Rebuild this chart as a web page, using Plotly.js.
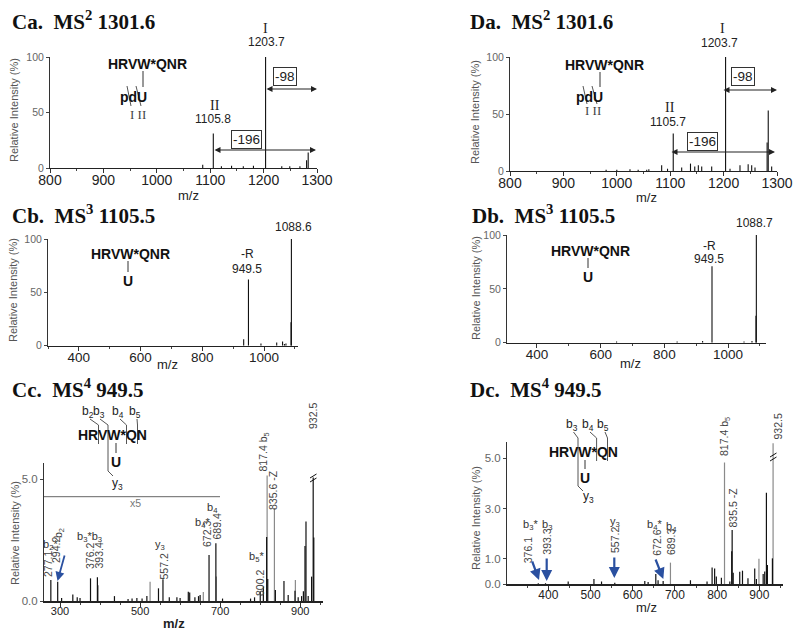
<!DOCTYPE html>
<html><head><meta charset="utf-8">
<script src="https://cdn.plot.ly/plotly-3.0.1.min.js"></script>
<style>body{margin:0;background:#fff}#c{width:800px;height:635px}</style>
</head><body><div id="c"></div>
<script>
// ---------------- data ----------------
// Panel Ca: MS2 1301.6
const caMz  = [1086, 1105.8, 1121, 1140, 1162, 1181, 1203.7, 1234, 1249, 1268, 1280.5, 1283.5];
const caInt = [3, 31, 1.5, 2, 1.5, 2, 100, 1.5, 1.5, 1.5, 7, 14];
// Panel Da: MS2 1301.6
const daMz  = [980, 1000, 1024.7, 1040, 1056, 1060, 1084, 1095, 1105.7, 1121.5, 1138, 1146, 1152.7, 1159, 1177.7, 1203.7, 1212, 1230.7, 1246, 1252.6, 1258.8, 1281.5, 1283.6, 1290];
const daInt = [1, 1, 1.5, 1, 1, 1.5, 5, 2, 33, 3, 6.5, 4, 5, 4, 4, 100, 2, 5, 6, 5, 3, 25, 53, 4];
// Panel Cb: MS3 1105.5
const cbMz  = [934, 949.5, 990, 1041, 1060, 1066, 1071, 1087.4, 1088.6];
const cbInt = [6, 62, 2, 3, 4, 1.5, 2, 22, 100];
// Panel Db: MS3 1105.5
const dbMz  = [650, 840, 920, 949.5, 1050, 1075, 1087.5, 1088.7];
const dbInt = [1, 1, 1.5, 71, 1, 1.5, 25, 100];
// Panel Cc: MS4 949.5 (dark and light peaks)
const ccMz  = [277.1, 294.2, 304, 332, 343, 350, 376.2, 393.4, 436, 470, 480, 492, 505, 517, 546, 557.2, 573, 592, 600, 620.5, 624, 637, 646, 650, 672.3, 689.4, 706, 776, 786, 800.2, 808, 816.2, 819, 838, 859.5, 870, 887, 895, 903.5, 908, 912, 914.5, 920, 928.5, 932.5, 934];
const ccInt = [0.86, 0.79, 0.12, 0.27, 0.15, 0.12, 0.93, 0.97, 0.2, 0.08, 0.1, 0.12, 0.1, 0.2, 0.52, 0.89, 0.15, 0.15, 0.12, 0.38, 0.35, 0.15, 0.2, 0.25, 1.89, 2.37, 0.1, 0.1, 0.15, 0.38, 0.59, 2.62, 0.9, 0.45, 0.82, 0.25, 0.42, 0.15, 0.2, 0.4, 2.26, 3.26, 0.2, 1.0, 5.07, 2.6];
const ccGrayMz  = [395.5, 525, 658, 690.5, 817.4, 835.6, 888];
const ccGrayInt = [0.65, 0.79, 0.37, 1.0, 5.15, 3.8, 0.86];
// Panel Dc: MS4 949.5
const dcMz  = [376.1, 393.3, 447, 508, 526, 557.4, 628.5, 636.4, 654.6, 660, 672, 736.7, 776, 788, 794, 798, 810, 830, 834.5, 835.5, 838, 853.5, 860, 873, 889, 893, 909, 912.7, 916.7, 919, 930.9];
const dcInt = [0.03, 0.03, 0.1, 0.2, 0.1, 0.05, 0.12, 0.08, 0.4, 0.15, 0.12, 0.15, 0.1, 0.66, 0.62, 0.3, 0.25, 0.1, 1.3, 2.15, 0.45, 0.49, 0.53, 0.23, 0.62, 0.2, 0.4, 0.5, 3.63, 0.76, 1.02];
const dcGrayMz  = [689.3, 817.4, 899, 932.5];
const dcGrayInt = [0.85, 4.83, 1.0, 5.6];
// tick labels
const ticksMS2 = [800, 900, 1000, 1100, 1200, 1300];
const ticksMS3 = [400, 600, 800, 1000];
const ticksCc  = [300, 500, 700, 900];
const ticksDc  = [400, 500, 600, 700, 800, 900];
const yTicksPct = [0, 50, 100];
const yTicksCc  = [0, 5];
const yTicksDc  = [0, 1, 3, 5];

// ---------------- helpers ----------------
const W = 800, H = 635;
const fx = p => p / W, fy = p => 1 - p / H;
const SANS = 'Liberation Sans, Arial, sans-serif';
const SERIF = 'Liberation Serif, Times New Roman, serif';

function stemTrace(mz, it, xa, ya, color, width) {
  const x = [], y = [];
  mz.forEach((m, i) => { x.push(m, m, null); y.push(0, it[i], null); });
  return {type: 'scatter', mode: 'lines', x, y, xaxis: xa, yaxis: ya,
          line: {color, width}, hoverinfo: 'skip', showlegend: false, cliponaxis: false};
}
function xAx(l, r, range, tickvals, size, anchor, minor, lw) {
  return {domain: [fx(l), fx(r)], range, anchor, tickmode: 'array', tickvals,
    ticks: 'outside', ticklen: 4, tickcolor: '#333', showline: true, linecolor: '#222', linewidth: lw || 1.2,
    showgrid: false, zeroline: false, fixedrange: true, ticklabelstandoff: -5,
    tickfont: {family: SANS, size, color: '#222'},
    minor: {ticks: 'outside', ticklen: 2, dtick: minor, tick0: 0, tickcolor: '#444', showgrid: false}};
}
function yAx(b, t, range, tickvals, size, anchor, fmt) {
  return {domain: [fy(b), fy(t)], range, anchor, tickmode: 'array', tickvals, tickformat: fmt || '',
    ticks: 'outside', ticklen: 3, tickcolor: '#444', showline: true, linecolor: '#333', linewidth: 1,
    showgrid: false, zeroline: false, fixedrange: true,
    tickfont: {family: SANS, size, color: '#666'}};
}

const ann = [], shapes = [];
function T(text, x, y, o) {
  o = o || {};
  const font = Object.assign({family: SANS, size: 12, color: '#222'}, o.font || {});
  const a = Object.assign({text, x: fx(x), y: fy(y), xref: 'paper', yref: 'paper', showarrow: false,
    xanchor: 'center', yanchor: 'middle'}, o);
  a.font = font;
  ann.push(a);
}
function R(text, x, y, size) { T(text, x, y, {textangle: -90, font: {size: size || 10.5, color: '#444'}}); }
function arrow(x0, y0, x1, y1, o) {
  ann.push(Object.assign({x: fx(x1), y: fy(y1), ax: x0 - x1, ay: y0 - y1, xref: 'paper', yref: 'paper',
    text: '', showarrow: true, arrowhead: 2, arrowsize: 1, arrowwidth: 1.2, arrowcolor: '#222'}, o || {}));
}
function L(x0, y0, x1, y1, color, w) {
  shapes.push({type: 'line', xref: 'paper', yref: 'paper', x0: fx(x0), y0: fy(y0), x1: fx(x1), y1: fy(y1),
    line: {color: color || '#444', width: w || 1}});
}

// ---------------- traces ----------------
const DARK = '#111', GRAY = '#8a8a8a';
const data = [
  stemTrace(caMz, caInt, 'x', 'y', DARK, 1.1),
  stemTrace(daMz, daInt, 'x2', 'y2', DARK, 1.1),
  stemTrace(cbMz, cbInt, 'x3', 'y3', DARK, 1.1),
  stemTrace(dbMz, dbInt, 'x4', 'y4', DARK, 1.1),
  stemTrace(ccGrayMz, ccGrayInt, 'x5', 'y5', GRAY, 1.2),
  stemTrace(ccMz, ccInt, 'x5', 'y5', DARK, 1.2),
  stemTrace(dcGrayMz, dcGrayInt, 'x6', 'y6', GRAY, 1.2),
  stemTrace(dcMz, dcInt, 'x6', 'y6', DARK, 1.2)
];

// ---------------- text ----------------
const ttl = {font: {family: SERIF, size: 21, color: '#111'}, xanchor: 'left'};
T('<b>Ca.&nbsp;&nbsp;MS<sup>2</sup> 1301.6</b>', 10, 21, ttl);
T('<b>Da.&nbsp;&nbsp;MS<sup>2</sup> 1301.6</b>', 468, 21, ttl);
T('<b>Cb.&nbsp;&nbsp;MS<sup>3</sup> 1105.5</b>', 10, 214, ttl);
T('<b>Db.&nbsp;&nbsp;MS<sup>3</sup> 1105.5</b>', 470, 214, ttl);
T('<b>Cc.&nbsp;&nbsp;MS<sup>4</sup> 949.5</b>', 10, 388, ttl);
T('<b>Dc.&nbsp;&nbsp;MS<sup>4</sup> 949.5</b>', 468, 388, ttl);

const yt = {textangle: -90, font: {size: 11, color: '#555'}};
T('Relative Intensity (%)', 14, 110, yt);
T('Relative Intensity (%)', 475, 112, yt);
T('Relative Intensity (%)', 13, 290, yt);
T('Relative Intensity (%)', 476, 288, yt);
T('Relative Intensity (%)', 15, 533, yt);
T('Relative Intensity (%)', 476, 518, yt);

const xt = {font: {size: 13, color: '#222'}};
T('m/z', 188, 196, xt);
T('m/z', 646, 197, xt);
T('m/z', 167, 364, xt);
T('m/z', 630, 363, xt);
T('<b>m/z</b>', 174, 623, xt);
T('m/z', 646, 607, xt);

// --- Ca annotations
const rom = {font: {family: SERIF, size: 14, color: '#222'}};
T('I', 265, 29, rom); T('1203.7', 266, 42.5);
T('II', 215, 105.5, rom); T('1105.8', 213, 119.5);
const box = {bordercolor: '#333', borderwidth: 1, borderpad: 1, bgcolor: '#fff', font: {size: 13.5}};
T('-98', 285, 77, box); T('-196', 246, 139, box);
arrow(265, 89, 317, 89, {arrowside: 'end+start'});
arrow(213, 150, 316, 150, {arrowside: 'end+start'});
const pep = {font: {size: 14, color: '#111'}};
T('<b>HRVW*QNR</b>', 147, 64, pep);
L(143, 71, 143, 87, '#333');
T('<b>pdU</b>', 133, 97, pep);
T('I II', 138, 114.5, {font: {family: SERIF, size: 13, color: '#444'}});
L(127, 86, 131, 106, '#555'); L(136, 86, 141, 106, '#555');

// --- Da annotations
T('I', 722, 29, rom); T('1203.7', 719, 43);
T('II', 670, 107, rom); T('1105.7', 668, 121.5);
T('-98', 743, 77, box); T('-196', 702, 141.5, box);
arrow(722, 90, 777, 90, {arrowside: 'end+start'});
arrow(670, 152, 775, 152, {arrowside: 'end+start'});
T('<b>HRVW*QNR</b>', 604, 65, pep);
L(600, 72, 600, 87, '#333');
T('<b>pdU</b>', 589, 97, pep);
T('I II', 593, 110.5, {font: {family: SERIF, size: 13, color: '#444'}});
L(583, 86, 587, 104, '#555'); L(592, 86, 597, 104, '#555');

// --- Cb / Db annotations
T('<b>HRVW*QNR</b>', 130, 254, pep);
L(128, 261, 128, 272, '#333'); T('<b>U</b>', 128, 281, pep);
T('-R', 247, 254); T('949.5', 247, 269); T('1088.6', 293, 227);
T('<b>HRVW*QNR</b>', 590, 251, pep);
L(588, 258, 588, 268, '#333'); T('<b>U</b>', 588, 277, pep);
T('-R', 709, 246); T('949.5', 709, 259); T('1088.7', 754, 223);

// --- Cc structure
T('<b>HRVW*QN</b>', 113, 435, pep);
const bl = {font: {size: 12, color: '#222'}};
T('b<sub>2</sub>', 88, 412, bl); T('b<sub>3</sub>', 98.5, 412, bl); T('b<sub>4</sub>', 118, 412, bl); T('b<sub>5</sub>', 135, 412, bl);
[[90, 98.5], [100, 108], [120, 126.5], [137, 137.5]].forEach(([a, b]) => { L(a, 419, b, 425, '#555'); L(b, 425, b, 444, '#555'); });
L(108, 444, 108, 471, '#555'); L(108, 471, 113, 476, '#555');
T('y<sub>3</sub>', 117, 484, bl);
L(116, 443, 116, 453, '#333'); T('<b>U</b>', 116, 462, pep);
// Cc peak labels
const sl = {font: {size: 11, color: '#333'}};
T('b<sub>2</sub>*', 50, 545, sl); R('277.1', 48, 564);
R('b<sub>2</sub>', 59, 533); R('294.2', 56, 550);
arrow(65, 554, 57.5, 581, {arrowcolor: '#2a50a0', arrowwidth: 1.8, arrowhead: 2});
T('b<sub>3</sub>*b<sub>3</sub>', 89, 537, sl); R('376.2', 90, 556); R('393.4', 98.5, 556);
T('y<sub>3</sub>', 160, 545, sl); R('557.2', 163.5, 567);
T('b<sub>4</sub>', 212, 508, sl); T('b<sub>4</sub>*', 202, 523, sl);
R('672.3', 207, 534); R('689.4', 216.5, 527);
T('b<sub>5</sub>*', 256.7, 557, sl); R('800.2', 260, 583);
R('817.4 b<sub>5</sub>', 263.5, 452); R('835.6 -Z', 273, 490); R('932.5', 313, 416);
L(44, 496.7, 220, 496.7, '#666', 1); T('x5', 135, 503, {font: {size: 10.5, color: '#777'}});
L(310, 478, 316.5, 474, '#111'); L(310, 482, 316.5, 478, '#111');

// --- Dc structure
T('<b>HRVW*QN</b>', 583.3, 452, pep);
T('b<sub>3</sub>', 571.7, 425, bl); T('b<sub>4</sub>', 588.3, 425, bl); T('b<sub>5</sub>', 603.3, 425, bl);
[[573.5, 578], [590, 596.6], [605, 607.5]].forEach(([a, b]) => { L(a, 432, b, 438, '#555'); L(b, 438, b, 461, '#555'); });
L(578, 461, 578, 486, '#555'); L(578, 486, 583, 491, '#555');
T('y<sub>3</sub>', 588, 497, bl);
L(585, 460, 585, 469, '#333'); T('<b>U</b>', 585, 477.5, pep);
// Dc peak labels
const blue = {arrowcolor: '#2a50a0', arrowwidth: 2.2, arrowhead: 2};
T('b<sub>3</sub>*', 530, 525, sl); R('376.1', 528.3, 550); arrow(531.7, 560, 539, 580, blue);
T('b<sub>3</sub>', 546.7, 525, sl); R('393.3', 546.7, 542); arrow(546.7, 557, 546.7, 581, blue);
T('y<sub>3</sub>', 615, 522, sl); R('557.2', 615, 540); arrow(614.3, 556, 614.3, 578, blue);
T('b<sub>4</sub>*', 654, 525, sl); T('b<sub>4</sub>', 671.7, 526.7, sl);
R('672.6', 656.7, 543); R('689.3', 671, 542); arrow(655, 558, 663.3, 579, blue);
R('817.4 b<sub>5</sub>', 725, 437); R('835.5 -Z', 732.5, 508); R('932.5', 777.5, 427);
L(770, 457, 776.5, 453, '#111'); L(770, 461, 776.5, 457, '#111');

// ---------------- layout ----------------
const layout = {
  width: W, height: H, margin: {l: 0, r: 0, t: 0, b: 0}, paper_bgcolor: '#fff', plot_bgcolor: 'rgba(0,0,0,0)',
  showlegend: false, font: {family: SANS},
  xaxis:  xAx(50, 317, [800, 1300], ticksMS2, 14, 'y', 50),
  yaxis:  yAx(168, 57, [0, 100], yTicksPct, 10.5, 'x'),
  xaxis2: xAx(510, 777, [800, 1300], ticksMS2, 14, 'y2', 50),
  yaxis2: yAx(171, 57, [0, 100], yTicksPct, 10.5, 'x2'),
  xaxis3: xAx(48, 298, [300, 1110], ticksMS3, 13.5, 'y3', 100),
  yaxis3: yAx(345.7, 239, [0, 100], yTicksPct, 10.5, 'x3'),
  xaxis4: xAx(507, 766, [306, 1119], ticksMS3, 13.5, 'y4', 100),
  yaxis4: yAx(342.7, 235, [0, 100], yTicksPct, 10.5, 'x4'),
  xaxis5: xAx(44, 323, [260, 957], ticksCc, 11, 'y5', 50, 2),
  yaxis5: yAx(601, 463, [0, 5.66], yTicksCc, 11.5, 'x5', '.1f'),
  xaxis6: xAx(507, 783, [302, 956], ticksDc, 12, 'y6', 50, 2),
  yaxis6: yAx(584, 441.7, [0, 5.66], yTicksDc, 11.5, 'x6', '.1f'),
  annotations: ann, shapes
};
Plotly.newPlot('c', data, layout, {staticPlot: true, displayModeBar: false});
</script></body></html>
